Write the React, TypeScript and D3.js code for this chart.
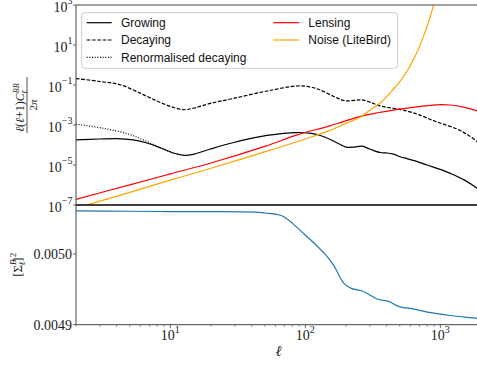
import React from 'react';
import * as d3 from 'd3';

const W = 477;
const H = 365;

// B-mode spectra, l(l+1)C_l/2pi, sampled in multipole l
const growingEll = [2, 3, 4, 5.3, 6.7, 8.5, 10.5, 12.9, 15, 19.8, 29, 52, 87, 110, 129, 153, 182, 200, 230, 263, 300, 359, 400, 449, 510, 566, 650, 797, 1000, 1186, 1500, 1870, 2000];
const growingDl = [1.8e-4, 2.0e-4, 2.1e-4, 1.8e-4, 1.26e-4, 7.1e-5, 4.0e-5, 3.0e-5, 3.5e-5, 6.3e-5, 1.3e-4, 3.0e-4, 4.2e-4, 3.8e-4, 3.0e-4, 1.9e-4, 1.05e-4, 7.9e-5, 7.9e-5, 8.7e-5, 6.3e-5, 4.2e-5, 4.0e-5, 3.5e-5, 2.5e-5, 2.1e-5, 1.6e-5, 1.0e-5, 6.0e-6, 3.8e-6, 1.8e-6, 6.8e-7, 4.5e-7];

const decayingEll = [2, 3, 4.3, 6.7, 8.5, 10.5, 12.6, 15, 19.8, 29, 52, 87, 110, 129, 160, 182, 200, 230, 263, 300, 359, 449, 566, 700, 843, 1050, 1330, 1600, 1870, 2000];
const decayingDl = [2.1e-1, 1.5e-1, 1.0e-1, 2.7e-2, 1.3e-2, 7.6e-3, 5.8e-3, 7.1e-3, 1.2e-2, 2.1e-2, 5.0e-2, 8.9e-2, 7.9e-2, 5.6e-2, 2.8e-2, 1.9e-2, 1.6e-2, 1.7e-2, 1.8e-2, 1.4e-2, 8.9e-3, 6.8e-3, 5.0e-3, 3.2e-3, 1.9e-3, 1.1e-3, 6.3e-4, 3.2e-4, 1.5e-4, 1.0e-4];

const renormEll = [2, 3.2, 4.9, 6.7, 8.5, 10.5, 12.9];
const renormDl = [1.1e-3, 6.8e-4, 3.5e-4, 1.5e-4, 7.1e-5, 4.0e-5, 3.0e-5];

const lensingEll = [2, 5, 10, 20, 50, 87, 145, 182, 255, 350, 449, 631, 843, 1000, 1186, 1480, 1870, 2000];
const lensingDl = [1.9e-7, 1.02e-6, 3.6e-6, 1.26e-5, 8.5e-5, 3.2e-4, 8.3e-4, 1.32e-3, 2.7e-3, 4.2e-3, 5.6e-3, 7.6e-3, 9.5e-3, 1.05e-2, 1.0e-2, 7.9e-3, 5.0e-3, 4.2e-3];

const noiseEll = [2, 5, 10, 20, 50, 100, 150, 200, 255, 300, 359, 400, 449, 500, 566, 630, 700, 760, 820, 892, 950];
const noiseDl = [6.9e-8, 4.3e-7, 1.74e-6, 6.9e-6, 4.5e-5, 2.0e-4, 5.2e-4, 1.2e-3, 2.5e-3, 5.5e-3, 1.26e-2, 2.6e-2, 6.3e-2, 1.45e-1, 5.0e-1, 1.8, 8.3, 34, 150, 1000, 5000];

// squared B-mode amplitude
const sigmaEll = [2, 5, 10, 20, 46, 50, 67, 97, 141, 162, 194, 221, 262, 294, 344, 414, 489, 637, 843, 1186, 1870, 2000];
const sigmaSq = [0.005061, 0.0050605, 0.00506, 0.00506, 0.005059, 0.005058, 0.005054, 0.005029, 0.004999, 0.004984, 0.004958, 0.004951, 0.004948, 0.004943, 0.004936, 0.004933, 0.004926, 0.004922, 0.004917, 0.004913, 0.004909, 0.004908];

const topTickExp = [3, 1, -1, -3, -5, -7];
const botTicks = [0.005, 0.0049];
const xMajorExp = [1, 2, 3];

const legendLeft = [
  { label: 'Growing', dash: 'none' },
  { label: 'Decaying', dash: '3.7,1.6' },
  { label: 'Renormalised decaying', dash: '1,1.65' },
];
const legendRight = [
  { label: 'Lensing', color: '#ff0000' },
  { label: 'Noise (LiteBird)', color: '#ffa500' },
];

const SERIF = "'Liberation Serif', 'DejaVu Serif', serif";
const SANS = "'Liberation Sans', Arial, sans-serif";

const xLeft = 76;
const xRight = 481;
const topY0 = 5;
const midY = 205;
const botY1 = 324.7;

export default function App() {
  const x = d3.scaleLog().domain([2, 2000]).range([xLeft, xRight]);
  const yTop = d3.scaleLog().domain([1e-7, 1e3]).range([midY, topY0]);
  const yBot = d3.scaleLinear().domain([0.0049, 0.005]).range([botY1, 254]);

  const topLine = (ell: number[], vals: number[]) =>
    d3
      .line<number>()
      .x((_, i) => x(ell[i]))
      .y((v) => yTop(v))
      .curve(d3.curveCatmullRom.alpha(0.5))(vals) || '';

  const botLine =
    d3
      .line<number>()
      .x((_, i) => x(sigmaEll[i]))
      .y((v) => yBot(v))
      .curve(d3.curveCatmullRom.alpha(0.5))(sigmaSq) || '';

  const minor = x.ticks().filter((t) => Math.abs(Math.log10(t) - Math.round(Math.log10(t))) > 1e-6);

  return (
    <svg
      width={W}
      height={H}
      style={{ position: 'absolute', left: 0, top: 0, background: '#fff' }}
      xmlns="http://www.w3.org/2000/svg"
    >
      <defs>
        <clipPath id="clipTop">
          <rect x={xLeft} y={topY0} width={xRight - xLeft} height={midY - topY0} />
        </clipPath>
        <clipPath id="clipBot">
          <rect x={xLeft} y={midY} width={xRight - xLeft} height={botY1 - midY} />
        </clipPath>
      </defs>
      <rect x={0} y={0} width={W} height={H} fill="#fff" />

      {/* upper panel: spectra */}
      <g clipPath="url(#clipTop)" fill="none" strokeWidth={1.2}>
        <path d={topLine(growingEll, growingDl)} stroke="#000" />
        <path d={topLine(decayingEll, decayingDl)} stroke="#000" strokeDasharray="3.7,1.6" />
        <path d={topLine(renormEll, renormDl)} stroke="#000" strokeDasharray="1,1.65" />
        <path d={topLine(lensingEll, lensingDl)} stroke="#ff0000" />
        <path d={topLine(noiseEll, noiseDl)} stroke="#ffa500" />
      </g>

      {/* lower panel */}
      <g clipPath="url(#clipBot)" fill="none">
        <path d={botLine} stroke="#1f77b4" strokeWidth={1.2} />
      </g>

      {/* spines */}
      <line x1={xLeft} x2={xRight} y1={topY0} y2={topY0} stroke="#444" strokeWidth={1} />
      <line x1={xLeft} x2={xLeft} y1={topY0} y2={botY1} stroke="#444" strokeWidth={1} />
      <line x1={xLeft} x2={xRight} y1={midY} y2={midY} stroke="#000" strokeWidth={1.4} />
      <line x1={xLeft} x2={xRight} y1={botY1} y2={botY1} stroke="#444" strokeWidth={1} />

      {/* upper y ticks */}
      {topTickExp.map((e) => {
        const yy = yTop(Math.pow(10, e));
        return (
          <g key={'ty' + e}>
            <line x1={xLeft - 3} x2={xLeft} y1={yy} y2={yy} stroke="#444" strokeWidth={0.8} />
            <text x={72.5} y={yy + 6.5} textAnchor="end" fontFamily={SERIF} fontSize={14} fill="#222">
              10
              <tspan dy={-7.5} fontSize={10}>
                {e < 0 ? '\u2212' + Math.abs(e) : String(e)}
              </tspan>
            </text>
          </g>
        );
      })}

      {/* lower y ticks */}
      {botTicks.map((t) => {
        const yy = yBot(t);
        return (
          <g key={'by' + t}>
            <line x1={xLeft - 3} x2={xLeft} y1={yy} y2={yy} stroke="#444" strokeWidth={0.8} />
            <text x={72} y={yy + 5} textAnchor="end" fontFamily={SERIF} fontSize={14} fill="#222">
              {t.toFixed(4)}
            </text>
          </g>
        );
      })}

      {/* x ticks */}
      {minor.map((t) => (
        <line key={'mx' + t} x1={x(t)} x2={x(t)} y1={botY1} y2={botY1 + 2} stroke="#444" strokeWidth={0.6} />
      ))}
      {xMajorExp.map((e) => {
        const xx = x(Math.pow(10, e));
        return (
          <g key={'mj' + e}>
            <line x1={xx} x2={xx} y1={botY1} y2={botY1 + 3.5} stroke="#444" strokeWidth={0.8} />
            <text x={xx} y={340} textAnchor="middle" fontFamily={SERIF} fontSize={14} fill="#222">
              10
              <tspan dy={-7} fontSize={10}>
                {String(e)}
              </tspan>
            </text>
          </g>
        );
      })}

      {/* axis labels */}
      <text x={(xLeft + xRight) / 2} y={356} textAnchor="middle" fontFamily={SERIF} fontStyle="italic" fontSize={15} fill="#222">
        ℓ
      </text>

      <g transform="translate(27,105) rotate(-90)" fontFamily={SERIF} fill="#222">
        <text x={-27} y={-3.5} fontSize={12}>
          <tspan fontStyle="italic">ℓ</tspan>
          <tspan>(</tspan>
          <tspan fontStyle="italic">ℓ</tspan>
          <tspan>+1)</tspan>
          <tspan fontStyle="italic">C</tspan>
          <tspan dy={-5} fontSize={8} fontStyle="italic">BB</tspan>
          <tspan dx={-10.5} dy={8} fontSize={8} fontStyle="italic">ℓ</tspan>
        </text>
        <line x1={-28} x2={28} y1={0} y2={0} stroke="#222" strokeWidth={0.8} />
        <text x={0} y={10} textAnchor="middle" fontSize={11}>
          2<tspan fontStyle="italic">π</tspan>
        </text>
      </g>

      <g transform="translate(22,264.8) rotate(-90)" fontFamily={SERIF} fill="#222">
        <text x={0} y={0} textAnchor="middle" fontSize={13}>
          [Σ
          <tspan dy={-6} fontSize={9} fontStyle="italic">B</tspan>
          <tspan dx={-6} dy={9} fontSize={9} fontStyle="italic">ℓ</tspan>
          <tspan dy={-3}>]</tspan>
          <tspan dy={-6} fontSize={9}>2</tspan>
        </text>
      </g>

      {/* legend */}
      <rect x={81.7} y={12.7} width={316} height={55.6} rx={3} fill="#fff" fillOpacity={0.8} stroke="#cccccc" strokeWidth={1} />
      {legendLeft.map((d, i) => {
        const yy = 22.7 + i * 17.3;
        return (
          <g key={d.label}>
            <line x1={86.7} x2={111.7} y1={yy} y2={yy} stroke="#000" strokeWidth={1.2} strokeDasharray={d.dash} />
            <text x={121} y={yy + 4.3} fontFamily={SANS} fontSize={12} fill="#111">
              {d.label}
            </text>
          </g>
        );
      })}
      {legendRight.map((d, i) => {
        const yy = 22.7 + i * 17.3;
        return (
          <g key={d.label}>
            <line x1={273.3} x2={299.3} y1={yy} y2={yy} stroke={d.color} strokeWidth={1.2} />
            <text x={308.3} y={yy + 4.3} fontFamily={SANS} fontSize={12} fill="#111">
              {d.label}
            </text>
          </g>
        );
      })}
    </svg>
  );
}
